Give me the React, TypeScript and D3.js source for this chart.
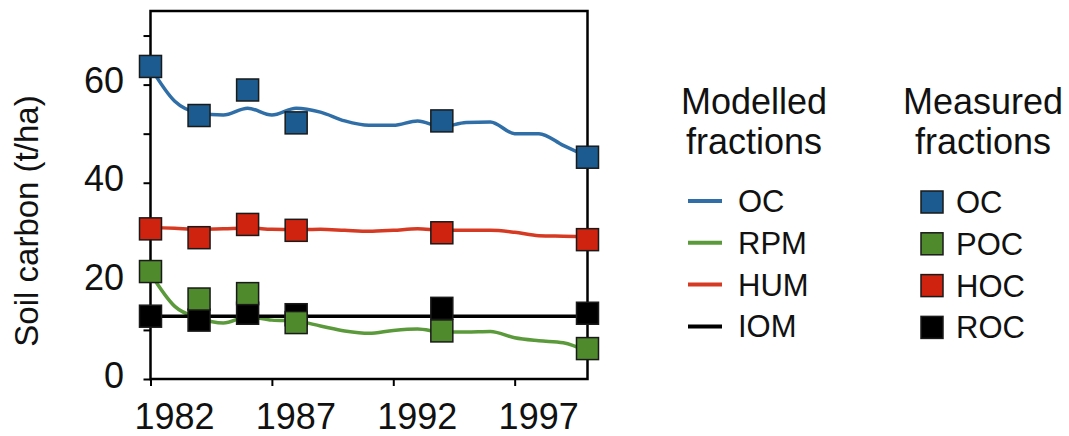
import { useRef, useEffect } from 'react';
import * as d3 from 'd3';

// modelled yearly output (t/ha)
const years = [1982, 1983, 1984, 1985, 1986, 1987, 1988, 1989, 1990, 1991, 1992, 1993, 1994, 1995, 1996, 1997, 1998, 1999, 2000];
const modelOC = [63.5, 56.6, 54.2, 53.8, 55.2, 53.8, 55.2, 54.4, 52.6, 51.7, 51.7, 52.6, 51.4, 52.3, 52.4, 50.0, 50.0, 47.6, 45.3];
const modelRPM = [21.5, 14.8, 12.4, 11.4, 12.7, 12.0, 11.8, 10.8, 9.8, 9.3, 9.9, 10.2, 9.6, 9.6, 9.7, 8.4, 7.8, 7.4, 5.6];
const modelHUM = [30.9, 30.7, 30.5, 30.6, 30.8, 30.5, 30.4, 30.5, 30.3, 30.1, 30.3, 30.6, 30.3, 30.3, 30.3, 29.9, 29.2, 29.1, 29.0];
const modelIOM = [12.8, 12.8, 12.8, 12.8, 12.8, 12.8, 12.8, 12.8, 12.8, 12.8, 12.8, 12.8, 12.8, 12.8, 12.8, 12.8, 12.8, 12.8, 12.8];

// measured fractions
const measuredYears = [1982, 1984, 1986, 1988, 1994, 2000];
const measuredOC = [63.7, 53.7, 58.9, 52.2, 52.6, 45.2];
const measuredPOC = [21.9, 16.3, 17.4, 11.5, 9.8, 6.2];
const measuredHOC = [30.6, 28.8, 31.5, 30.3, 29.8, 28.4];
const measuredROC = [12.8, 12.0, 13.4, 13.1, 14.4, 13.4];

const yTicks = [0, 10, 20, 30, 40, 50, 60, 70];
const yTickLabels = [0, 20, 40, 60];
const xTicks = [1982, 1987, 1992, 1997];

const modelledNames = ['OC', 'RPM', 'HUM', 'IOM'];
const measuredNames = ['OC', 'POC', 'HOC', 'ROC'];

const LINE_COLORS = ['#2f6ea6', '#5b9a3b', '#d63a22', '#000000'];
const SQUARE_COLORS = ['#1b5b8f', '#4f8b2c', '#d0230f', '#000000'];
const FONT = '"Liberation Sans", Arial, Helvetica, sans-serif';

export default function App() {
  const svgRef = useRef<SVGSVGElement>(null);

  useEffect(() => {
    if (!svgRef.current) return;
    const svg = d3.select(svgRef.current);
    svg.selectAll('*').remove();

    const x = d3.scaleLinear().domain([1982, 2000]).range([150.5, 587.5]);
    const y = d3.scaleLinear().domain([0, 75]).range([379, 11]);

    const g = svg.append('g');

    // frame
    g.append('rect')
      .attr('x', x(1982))
      .attr('y', y(75))
      .attr('width', x(2000) - x(1982))
      .attr('height', y(0) - y(75))
      .attr('fill', 'none')
      .attr('stroke', '#000')
      .attr('stroke-width', 2.5);

    // y axis
    g.append('g')
      .attr('transform', `translate(${x(1982)},0)`)
      .call(d3.axisLeft(y).tickValues(yTicks).tickSize(7).tickFormat(() => ''))
      .call((a) => a.select('.domain').remove())
      .call((a) => a.selectAll('line').attr('stroke', '#000').attr('stroke-width', 2));

    g.append('g')
      .selectAll('text')
      .data(yTickLabels)
      .join('text')
      .attr('x', 124)
      .attr('y', (d) => y(d))
      .attr('dy', '0.24em')
      .attr('text-anchor', 'end')
      .style('font-family', FONT)
      .style('font-size', '36px')
      .attr('fill', '#111')
      .text((d) => d);

    // x axis
    g.append('g')
      .attr('transform', `translate(0,${y(0)})`)
      .call(d3.axisBottom(x).tickValues(xTicks).tickSize(7).tickFormat(() => ''))
      .call((a) => a.select('.domain').remove())
      .call((a) => a.selectAll('line').attr('stroke', '#000').attr('stroke-width', 2));

    g.append('g')
      .selectAll('text')
      .data(xTicks)
      .join('text')
      .attr('x', (d) => x(d) + 24)
      .attr('y', 429)
      .attr('text-anchor', 'middle')
      .style('font-family', FONT)
      .style('font-size', '36px')
      .attr('fill', '#111')
      .text((d) => d);

    g.append('text')
      .attr('transform', 'translate(38,221) rotate(-90)')
      .attr('text-anchor', 'middle')
      .style('font-family', FONT)
      .style('font-size', '33px')
      .attr('fill', '#111')
      .text('Soil carbon (t/ha)');

    // modelled lines
    const line = d3
      .line<number>()
      .x((_, i) => x(years[i]))
      .y((d) => y(d))
      .curve(d3.curveMonotoneX);

    const models = [modelOC, modelRPM, modelHUM, modelIOM];
    [1, 2, 0, 3].forEach((k) => {
      g.append('path')
        .datum(models[k])
        .attr('d', line)
        .attr('fill', 'none')
        .attr('stroke', LINE_COLORS[k])
        .attr('stroke-width', 3.5)
        .attr('stroke-linejoin', 'round');
    });

    // measured squares
    const measured = [measuredOC, measuredPOC, measuredHOC, measuredROC];
    const sq = 22;
    [0, 2, 3, 1].forEach((k) => {
      g.append('g')
        .selectAll('rect')
        .data(measured[k])
        .join('rect')
        .attr('x', (_, i) => x(measuredYears[i]) - sq / 2)
        .attr('y', (d) => y(d) - sq / 2)
        .attr('width', sq)
        .attr('height', sq)
        .attr('fill', SQUARE_COLORS[k])
        .attr('stroke', '#1a1a1a')
        .attr('stroke-width', 1.5);
    });

    // legends
    const leg = svg.append('g').style('font-family', FONT).attr('fill', '#111');
    const titles = [
      { cx: 754, lines: ['Modelled', 'fractions'] },
      { cx: 983, lines: ['Measured', 'fractions'] },
    ];
    titles.forEach((t) => {
      const txt = leg.append('text').attr('text-anchor', 'middle').style('font-size', '36px');
      t.lines.forEach((s, i) => {
        txt.append('tspan').attr('x', t.cx).attr('y', 114 + i * 40).text(s);
      });
    });

    const itemY = (i: number) => 201 + i * 41.8;

    modelledNames.forEach((name, i) => {
      const ly = itemY(i);
      leg.append('line')
        .attr('x1', 688)
        .attr('x2', 722)
        .attr('y1', ly)
        .attr('y2', ly)
        .attr('stroke', LINE_COLORS[i])
        .attr('stroke-width', 4);
      leg.append('text').attr('x', 738).attr('y', ly + 11).style('font-size', '31px').text(name);
    });

    measuredNames.forEach((name, i) => {
      const ly = itemY(i) + 1;
      leg.append('rect')
        .attr('x', 932 - sq / 2)
        .attr('y', ly - sq / 2)
        .attr('width', sq)
        .attr('height', sq)
        .attr('fill', SQUARE_COLORS[i])
        .attr('stroke', '#1a1a1a')
        .attr('stroke-width', 1.5);
      leg.append('text').attr('x', 956).attr('y', ly + 11).style('font-size', '31px').text(name);
    });
  }, []);

  return (
    <svg
      ref={svgRef}
      width={1069}
      height={436}
      style={{ position: 'absolute', left: 0, top: 0, background: '#fff', display: 'block' }}
    />
  );
}
